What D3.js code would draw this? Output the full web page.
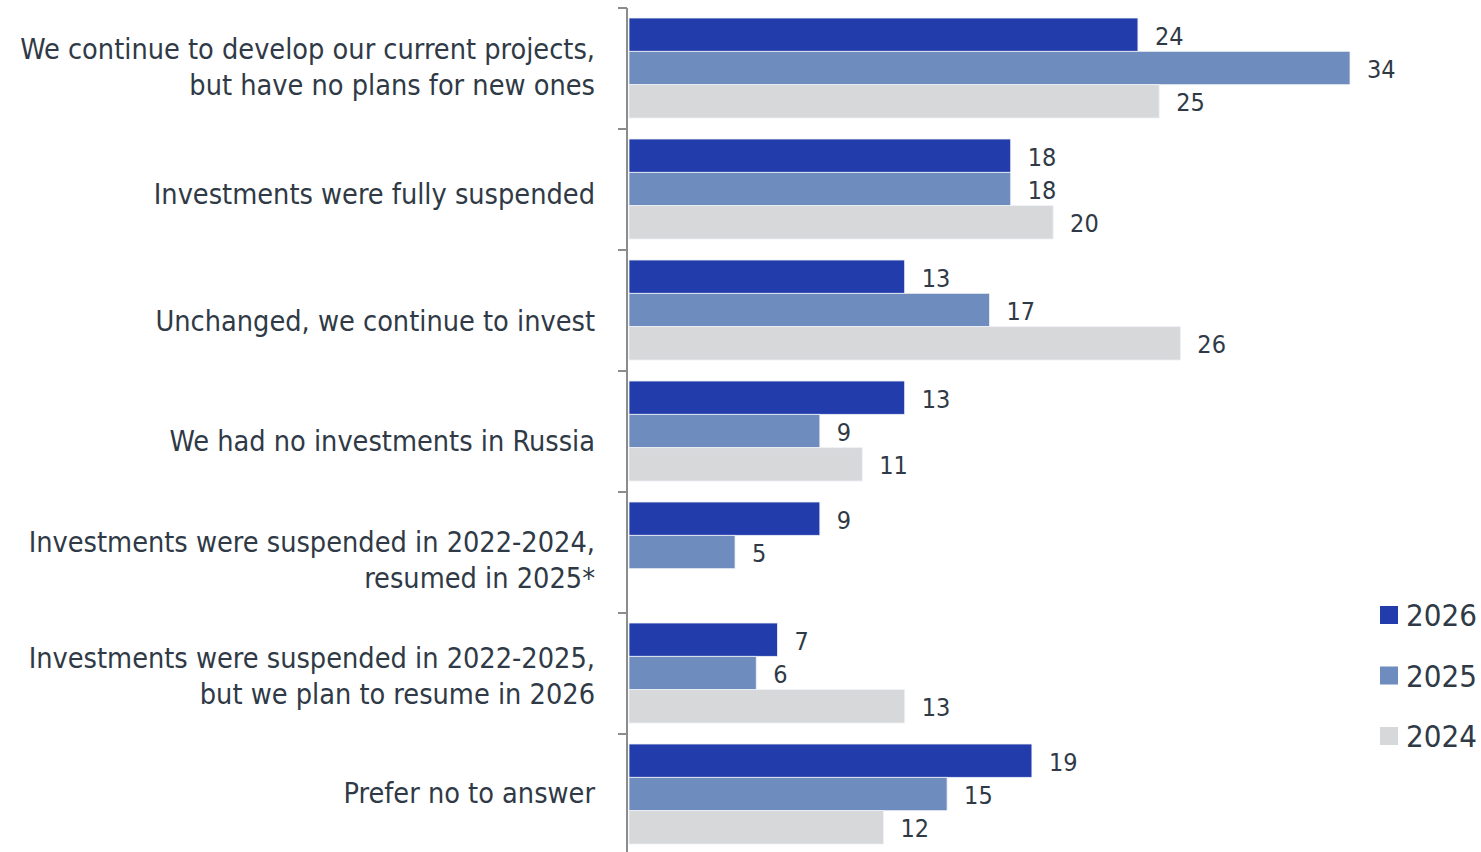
<!DOCTYPE html>
<html>
<head>
<meta charset="utf-8">
<script src="https://cdn.jsdelivr.net/npm/d3@7"></script>
<style>
  html, body { margin: 0; padding: 0; background: #ffffff; }
  svg { display: block; font-family: "DejaVu Sans Condensed", "DejaVu Sans", sans-serif; }
</style>
</head>
<body>
<svg id="chart" width="1481" height="852"></svg>
<script>
// Survey answers, one group of bars per answer
const categories = [
  ["We continue to develop our current projects,", "but have no plans for new ones"],
  ["Investments were fully suspended"],
  ["Unchanged, we continue to invest"],
  ["We had no investments in Russia"],
  ["Investments were suspended in 2022-2024,", "resumed in 2025*"],
  ["Investments were suspended in 2022-2025,", "but we plan to resume in 2026"],
  ["Prefer no to answer"]
];
const seriesNames = ["2026", "2025", "2024"];
const values2026 = [24, 18, 13, 13, 9, 7, 19];
const values2025 = [34, 18, 17, 9, 5, 6, 15];
const values2024 = [25, 20, 26, 11, null, 13, 12];
const colors = ["#233cac", "#6e8cbe", "#d7d8da"];

// vertical nudge of each category label relative to its band centre
const labelShift = [-2, 4, 10, 9, 7, 2, -2];

const seriesValues = [values2026, values2025, values2024];
const svg = d3.select("#chart");
const textColor = "#2f3a46";

const y = d3.scaleBand()
  .domain(d3.range(categories.length))
  .range([8, 8 + 121 * categories.length]);

const ySub = d3.scaleBand()
  .domain(seriesNames)
  .range([10, 110]);

const x = d3.scaleLinear().domain([0, 34]).range([629, 1350]);

// bars
categories.forEach((cat, i) => {
  const g = svg.append("g").attr("transform", `translate(0,${y(i)})`);
  seriesNames.forEach((s, j) => {
    const v = seriesValues[j][i];
    if (v == null) return;
    g.append("rect")
      .attr("x", x(0))
      .attr("y", ySub(s))
      .attr("width", x(v) - x(0))
      .attr("height", ySub.bandwidth())
      .attr("fill", colors[j])
      .attr("stroke", "#eef0f6")
      .attr("stroke-width", 0.8);
    g.append("text")
      .attr("x", x(v) + 17)
      .attr("y", ySub(s) + ySub.bandwidth() / 2 + 1)
      .attr("dy", "0.36em")
      .attr("font-size", 25)
      .attr("fill", textColor)
      .text(v);
  });
});

// category axis
const axisX = 627;
svg.append("line")
  .attr("x1", axisX).attr("x2", axisX)
  .attr("y1", y(0)).attr("y2", 852)
  .attr("stroke", "#8c8c8c").attr("stroke-width", 2);
d3.range(categories.length).forEach(i => {
  svg.append("line")
    .attr("x1", axisX - 9).attr("x2", axisX)
    .attr("y1", y(i)).attr("y2", y(i))
    .attr("stroke", "#8c8c8c").attr("stroke-width", 2);
});

// category labels
const lineH = 36;
categories.forEach((lines, i) => {
  const cy = y(i) + y.bandwidth() / 2 + labelShift[i];
  const t = svg.append("text")
    .attr("text-anchor", "end")
    .attr("font-size", 28.6)
    .attr("fill", textColor);
  lines.forEach((ln, k) => {
    t.append("tspan")
      .attr("x", 595)
      .attr("y", cy + (k - (lines.length - 1) / 2) * lineH)
      .attr("dy", "0.36em")
      .text(ln);
  });
});

// legend
const legend = svg.append("g");
seriesNames.forEach((s, j) => {
  const ly = 615 + j * 60.5;
  legend.append("rect")
    .attr("x", 1380).attr("y", ly - 9)
    .attr("width", 18).attr("height", 18)
    .attr("fill", colors[j]);
  legend.append("text")
    .attr("x", 1406).attr("y", ly)
    .attr("dy", "0.36em")
    .attr("font-size", 31)
    .attr("fill", textColor)
    .text(s);
});
</script>
</body>
</html>
